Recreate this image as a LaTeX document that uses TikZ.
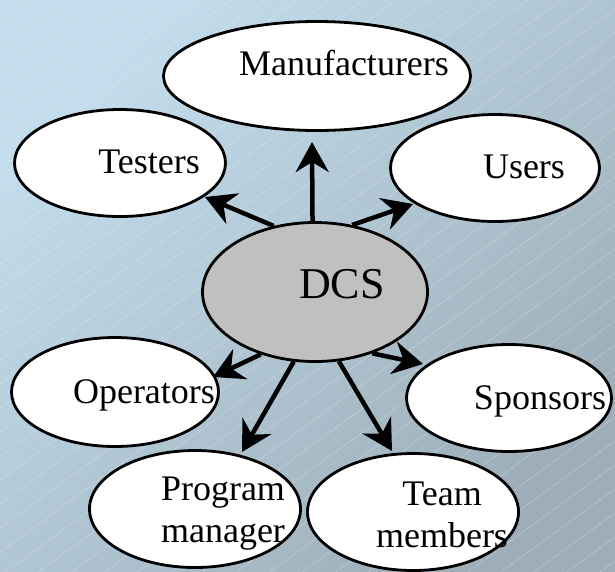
\documentclass[tikz,border=0pt]{standalone}
\usepackage{fontspec}
\setmainfont{Liberation Serif}
\usetikzlibrary{shapes.geometric,arrows.meta}
\definecolor{bgtop}{HTML}{C3DDEC}
\definecolor{bgbottom}{HTML}{9DAEB9}
\definecolor{hubfill}{HTML}{C0C0C0}
\begin{document}
\begin{tikzpicture}[x=1pt,y=-1pt,
  bubble/.style={ellipse,draw=black,line width=2.8pt,fill=white,inner sep=0pt},
  tag/.style={font=\fontsize{36}{42}\selectfont,inner sep=0pt,anchor=base,align=center},
  link/.style={line width=4.5pt,-{Stealth[length=30pt,width=33pt,inset=10pt]}}]

% backdrop: diagonal gradient with faint hatching
\useasboundingbox (0,0) rectangle (615,571);
\shade[shading=axis,top color=bgtop,bottom color=bgbottom,shading angle=45]
  (0,0) rectangle (615,571);
\begin{scope}
  \clip (0,0) rectangle (615,571);
  \foreach \c in {0,24,...,1056}
    \draw[white,opacity=0.3,line width=0.5pt] (0,\c) -- (615,\c-447);
\end{scope}

% stakeholder bubbles
\node[bubble,minimum width=307pt,minimum height=109pt] (manu) at (317,76) {};
\node[bubble,minimum width=211pt,minimum height=107pt] (test) at (120,163) {};
\node[bubble,minimum width=209pt,minimum height=107pt] (user) at (495,168) {};
\node[bubble,minimum width=207pt,minimum height=109pt] (oper) at (115,392) {};
\node[bubble,minimum width=205pt,minimum height=107pt] (spon) at (509,398) {};
\node[bubble,minimum width=211pt,minimum height=117pt] (prog) at (195,509) {};
\node[bubble,minimum width=211pt,minimum height=117pt] (team) at (413,512) {};

% central system
\node[bubble,fill=hubfill,minimum width=225pt,minimum height=139pt] (dcs) at (315,292) {};

% labels (two-line labels are anchored on their last baseline)
\node[tag] (manuT) at (344,75) {Manufacturers};
\node[tag] (testT) at (149,173) {Testers};
\node[tag] (userT) at (524,178) {Users};
\node[tag] (operT) at (144,403) {Operators};
\node[tag] (sponT) at (540,409) {Sponsors};
\node[tag] (progT) at (223,542) {Program\\manager};
\node[tag] (teamT) at (442,547) {Team\\members};
\node[tag,font=\fontsize{44}{50}\selectfont] (dcsT) at (342,298) {DCS};

% arrow tips
\coordinate (tManu) at (312,142);
\coordinate (tTest) at (205,197);
\coordinate (tUser) at (413,204);
\coordinate (tOper) at (213,377);
\coordinate (tSpon) at (423,364);
\coordinate (tProg) at (242,452);
\coordinate (tTeam) at (392,451);

% connectors
\draw[link] (dcs.92) -- (tManu);
\draw[link] (dcs.122) -- (tTest);
\draw[link] (dcs.61) -- (tUser);
\draw[link] (dcs.229) -- (tOper);
\draw[link] (dcs.313) -- (tSpon);
\draw[link] (dcs.253) -- (tProg);
\draw[link] (dcs.289) -- (tTeam);
\end{tikzpicture}
\end{document}
